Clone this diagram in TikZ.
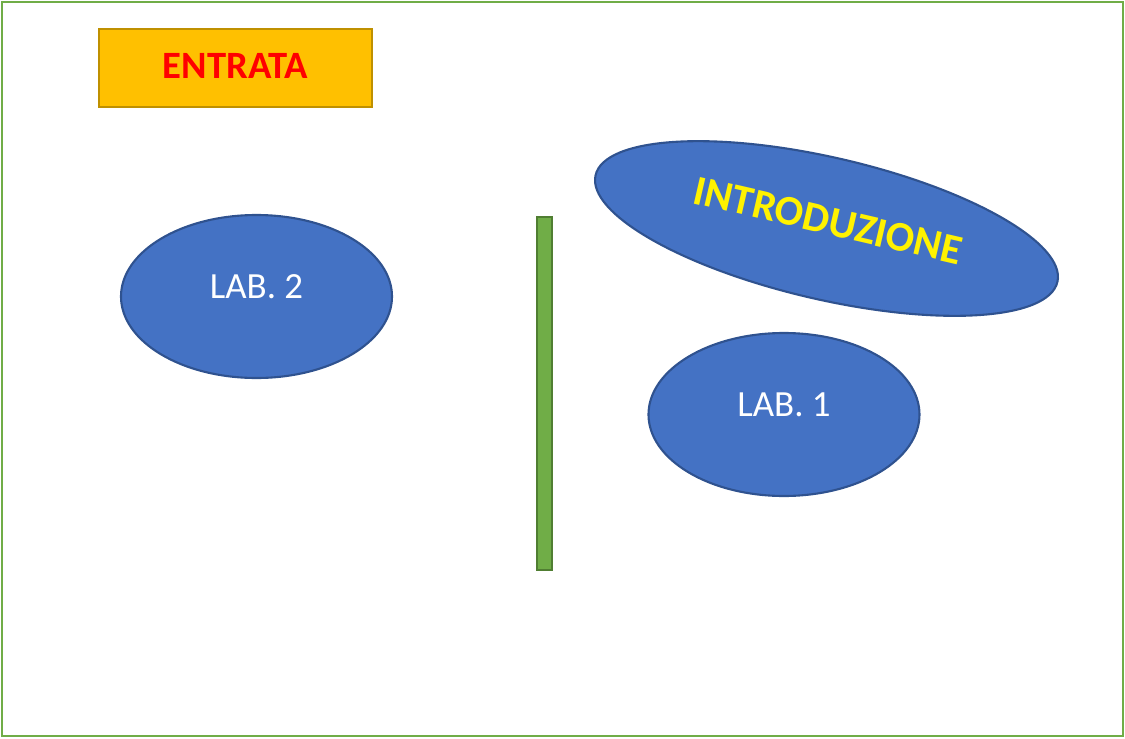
\documentclass[tikz,border=0pt]{standalone}
\usepackage{fontspec}
\setmainfont{Carlito}
\usepackage{tikz}
\usetikzlibrary{shapes.geometric}

\definecolor{lab}{HTML}{4472C4}
\definecolor{labedge}{HTML}{2F528F}
\definecolor{frame}{HTML}{70AD47}
\definecolor{wall}{HTML}{70AD47}
\definecolor{walledge}{HTML}{507E32}
\definecolor{entry}{HTML}{FFC000}
\definecolor{entryedge}{HTML}{BF9000}

\begin{document}
\begin{tikzpicture}[
        room/.style={ellipse,draw=labedge,fill=lab,line width=0.6pt,inner sep=0pt,
            minimum width=2.71cm,minimum height=1.63cm,text=white,font=\fontsize{10.5}{12}\selectfont},
    ]
        \useasboundingbox (0,0) rectangle (11.25,7.38);
        \draw[frame,line width=0.8pt] (0.02,0.02) rectangle (11.23,7.36);

        \node[draw=entryedge,fill=entry,line width=0.8pt,minimum width=2.73cm,minimum height=0.78cm,
            text=red,font=\fontsize{11}{13}\selectfont\bfseries] (entrata) at (2.355,6.70) {\raisebox{0.9pt}{ENTRATA}};

        \node[room] (lab2) at (2.565,4.415) {\raisebox{5.8pt}{LAB. 2}};
        \node[room] (lab1) at (7.84,3.235) {\raisebox{5.8pt}{LAB. 1}};

        \node[room,rotate=-13,minimum width=4.74cm,minimum height=1.42cm,text=yellow,
            font=\fontsize{12}{14}\selectfont\bfseries] (intro) at (8.265,5.095) {\raisebox{0.8ex}{INTRODUZIONE}};

        \node[draw=walledge,fill=wall,line width=0.6pt,inner sep=0pt,
            minimum width=0.15cm,minimum height=3.53cm] (muro) at (5.445,3.445) {};
    \end{tikzpicture}
\end{document}
